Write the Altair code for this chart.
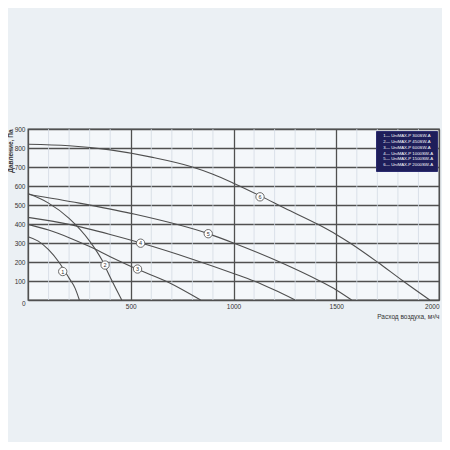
import altair as alt
import pandas as pd

# ---- data ----
curve_nums = ["1", "2", "3", "4", "5", "6"]
models = ["UniMAX-P 300SW-A", "UniMAX-P 450SW-A", "UniMAX-P 600SW-A",
          "UniMAX-P 1000SW-A", "UniMAX-P 1500SW-A", "UniMAX-P 2000SW-A"]

c1_x = [0, 50, 100, 150, 200, 230, 250]
c1_y = [333, 310, 265, 200, 115, 60, 0]
c2_x = [0, 100, 200, 300, 360, 400, 430, 456]
c2_y = [560, 510, 430, 310, 210, 120, 55, 0]
c3_x = [0, 100, 200, 300, 400, 530, 680, 840]
c3_y = [398, 368, 328, 281, 228, 163, 95, 0]
c4_x = [0, 200, 400, 550, 800, 1000, 1100, 1200, 1300]
c4_y = [435, 398, 345, 300, 215, 140, 100, 52, 0]
c5_x = [0, 250, 500, 880, 1000, 1225, 1420, 1500, 1575]
c5_y = [557, 510, 456, 348, 300, 200, 100, 53, 0]
c6_x = [0, 200, 400, 600, 800, 900, 1000, 1130, 1250, 1413, 1500, 1567, 1700, 1825, 1955]
c6_y = [820, 812, 790, 752, 700, 662, 615, 548, 483, 397, 345, 300, 200, 100, 0]

marker_x = [169, 375, 533, 548, 877, 1129]
marker_y = [150, 184, 163, 299, 349, 543]

x_ticks = [0, 500, 1000, 1500, 2000]
x_minor = [100, 200, 300, 400, 600, 700, 800, 900, 1100, 1200, 1300, 1400,
           1600, 1700, 1800, 1900]
y_ticks = [0, 100, 200, 300, 400, 500, 600, 700, 800, 900]

# ---- tables ----
xs = [c1_x, c2_x, c3_x, c4_x, c5_x, c6_x]
ys = [c1_y, c2_y, c3_y, c4_y, c5_y, c6_y]
rows = []
for n, m, cx, cy in zip(curve_nums, models, xs, ys):
    for i, (a, b) in enumerate(zip(cx, cy)):
        rows.append({"curve": f"{n}— {m}", "x": a, "y": b, "order": i})
curves = pd.DataFrame(rows)
markers = pd.DataFrame({"n": curve_nums, "x": marker_x, "y": marker_y})
minor = pd.DataFrame({"x": x_minor, "y": [0] * len(x_minor), "y2": [900] * len(x_minor)})

FONT = "Liberation Sans"
GRID = "#505050"

xscale = alt.Scale(domain=[0, 2000], nice=False)
yscale = alt.Scale(domain=[0, 900], nice=False)

xaxis = alt.Axis(
    values=x_ticks, grid=True, gridColor=GRID, gridWidth=1.3,
    ticks=False, domain=False, labelFontSize=6.5, labelColor="#333",
    labelFont=FONT, labelPadding=3, format="d", labelOverlap=False,
    labelExpr="datum.value === 0 ? '' : datum.label",
    labelAlign={"condition": {"test": "datum.value === 2000", "value": "right"}, "value": "center"},
    title="Расход воздуха, м³/ч", titleAnchor="end", titleFontSize=6.5,
    titleFontWeight="normal", titleFont=FONT, titleColor="#333", titlePadding=4,
)
yaxis = alt.Axis(
    values=y_ticks, grid=True, gridColor=GRID, gridWidth=1.3,
    ticks=False, domain=False, labelFontSize=6.5, labelColor="#333",
    labelFont=FONT, labelPadding=3, format="d", labelOverlap=False,
    labelBaseline={"condition": {"test": "datum.value === 0", "value": "top"}, "value": "middle"},
    title="Давление, Па", titleAnchor="end", titleFontSize=6.5,
    titleFontWeight="bold", titleFont=FONT, titleColor="#333", titlePadding=1,
)

X = alt.X("x:Q", scale=xscale, axis=xaxis)
Y = alt.Y("y:Q", scale=yscale, axis=yaxis)

minor_layer = alt.Chart(minor).mark_rule(color="#d3dbe3", strokeWidth=0.8).encode(
    x=X, y=Y, y2="y2:Q"
)

lines = alt.Chart(curves).mark_line(interpolate="monotone", strokeWidth=1.1).encode(
    x=X, y=Y,
    order="order:Q",
    color=alt.Color(
        "curve:N",
        scale=alt.Scale(range=["#4f4f4f"] * 6),
        legend=alt.Legend(
            title=None, orient="none", legendX=348, legendY=2,
            fillColor="#1e1e5a", strokeColor="#2c2c70", padding=3,
            labelColor="white", labelFontSize=4.3, labelFont=FONT,
            symbolOpacity=0, symbolSize=1, labelOffset=0, rowPadding=0.8,
        ),
    ),
)

circles = alt.Chart(markers).mark_point(
    shape="circle", filled=True, fill="white", stroke="#5a5a5a",
    strokeWidth=0.9, size=70, opacity=1,
).encode(x=X, y=Y)

digits = alt.Chart(markers).mark_text(fontSize=5.5, color="#333", font=FONT).encode(
    x=X, y=Y, text="n:N",
)

chart = alt.layer(minor_layer, lines, circles, digits).properties(
    width=411, height=171,
    autosize=alt.AutoSizeParams(type="none"),
    padding={"left": 20, "top": 121, "right": 3, "bottom": 142},
    background="#ebf0f4",
).configure_view(
    stroke=GRID, strokeWidth=1.3, fill="#f4f7fa"
)

chart.save("out.html", embed_options={"renderer": "svg", "actions": False})
